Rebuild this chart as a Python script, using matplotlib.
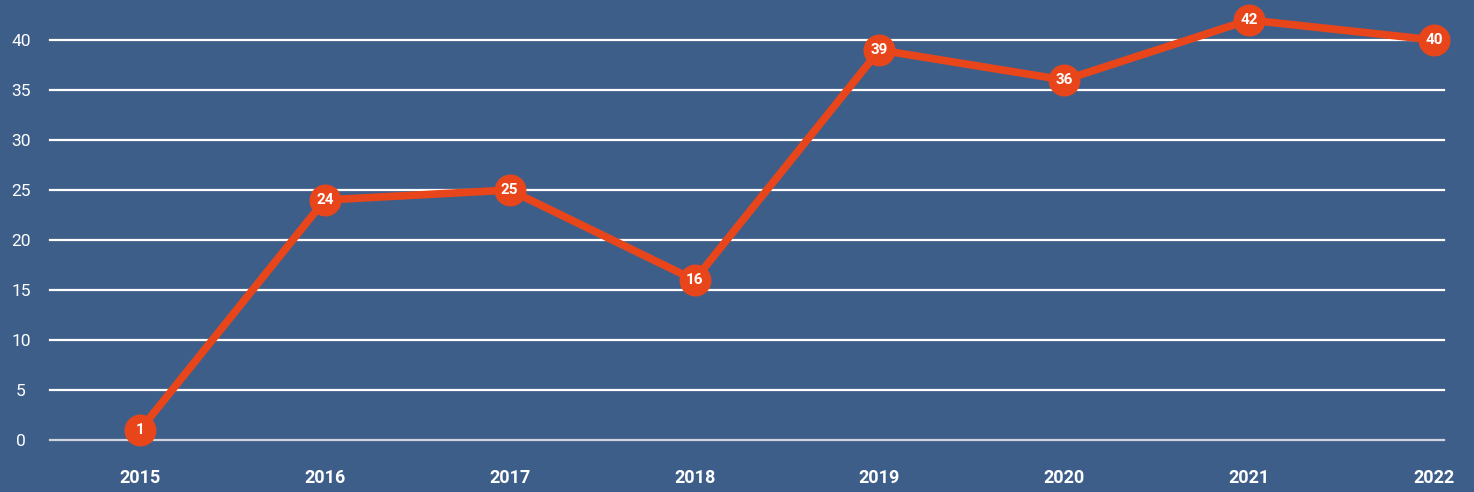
import matplotlib
matplotlib.use("Agg")
from matplotlib import pyplot as plt

# Chart data
years = [2015, 2016, 2017, 2018, 2019, 2020, 2021, 2022]
values = [1, 24, 25, 16, 39, 36, 42, 40]
y_ticks = [0, 5, 10, 15, 20, 25, 30, 35, 40]

bg = "#3e5e8a"
orange = "#e8461a"

fig = plt.figure(figsize=(14.74, 4.92), dpi=100)
fig.patch.set_facecolor(bg)
ax = fig.add_axes([50 / 1474, 52 / 492, 1394 / 1474, 440 / 492])
ax.set_facecolor(bg)

ax.set_xlim(2015 - 90 / 184.86, 2022 + 10 / 184.86)
ax.set_ylim(0, 44)

# Horizontal grid lines
for t in y_ticks:
    col = "#d0d4da" if t == 0 else "white"
    ax.axhline(t, color=col, lw=1.6, zorder=1, clip_on=False)

# Line and markers
ax.plot(years, values, color=orange, lw=5.5, zorder=3, clip_on=False,
        solid_capstyle="round")
ax.plot(years, values, "o", color=orange, ms=22, zorder=4, clip_on=False)
for x, v in zip(years, values):
    ax.text(x, v, str(v), color="white", fontsize=11, fontweight="bold",
            ha="center", va="center", zorder=5, family="Roboto")

# Ticks
ax.set_yticks(y_ticks)
ax.set_yticklabels([str(t) for t in y_ticks], color="white", fontsize=12.5,
                   family="Roboto", ha="center")
ax.set_xticks(years)
ax.set_xticklabels([str(y) for y in years], color="white", fontsize=13,
                   fontweight="bold", family="Roboto")
ax.tick_params(axis="y", length=0, pad=21)
ax.tick_params(axis="x", length=0, pad=21)

for s in ax.spines.values():
    s.set_visible(False)

fig.savefig("out.png", dpi=100, facecolor=bg)
